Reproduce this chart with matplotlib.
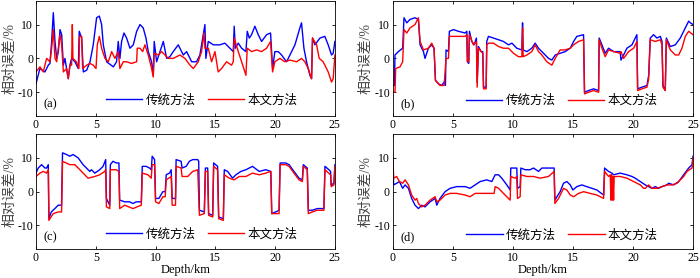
import matplotlib
matplotlib.use("Agg")
import matplotlib.pyplot as plt

plt.rcParams['font.family'] = ['Liberation Serif', 'Noto Sans CJK SC']
plt.rcParams['axes.unicode_minus'] = False

# (a) 传统方法 / 本文方法
a_blue_x = [0.0, 0.33, 0.75, 1.03, 1.17, 1.31, 1.45, 1.59, 1.73, 1.87, 2.01, 2.15, 2.29, 2.42, 2.70, 2.84, 2.98,
            3.26, 3.54, 3.62, 3.82, 3.96, 4.24, 4.52, 4.79, 5.07, 5.30, 5.49, 5.63, 5.91, 6.47, 6.74, 6.88, 7.02,
            7.16, 7.36, 7.58, 7.86, 8.14, 8.42, 8.70, 8.97, 9.20, 9.39, 9.67, 9.81, 9.89, 10.09, 10.37, 10.65,
            10.93, 11.20, 11.48, 11.90, 12.32, 12.60, 13.02, 13.43, 13.71, 13.99, 14.13, 14.21, 14.41, 14.83,
            15.38, 15.80, 16.22, 16.50, 16.58, 16.67, 16.92, 17.20, 17.56, 17.67, 17.84, 18.03, 18.31, 18.59,
            18.87, 19.29, 19.62, 19.79, 19.98, 20.26, 20.54, 20.96, 21.24, 21.66, 22.07, 22.21, 22.41, 22.63,
            22.91, 23.05, 23.13, 23.33, 23.75, 24.16, 24.44, 24.72, 24.86, 25.0]
a_blue_y = [-7.5, -3, -4, -2, -1.5, 5, 13.5, 5, 0, 2, 8.5, 7, -2, 0, -6, -2, 0,
            -1, -3, 8, 6, -4, -3.5, -1, 4, 12, 12.5, 10, 4, -1, -2.5, -1, 5, 0,
            5, 7.5, 6, 3, 4, 8, 10, 9, 6, 2, -1, -5, 5, -1, 2, 5,
            0, 0.5, 2, 4, 1, 2, -1, -1, 1, 7, 10, 0, 5, 4,
            4, 4.5, 3, 2, 9.5, 3, 4.5, 3, 2, 8, 6, 7, 9.5, 7,
            5, 7, 7.5, -3, 2, 2, 1, -1, 1, 4, 9, 10.5, 3, -1,
            -5, -6, 6, 4, 6, 6.5, 4, 1, 1.5, 5]
a_red_x = [0.0, 0.33, 0.61, 0.89, 1.17, 1.31, 1.45, 1.59, 1.73, 2.01, 2.15, 2.29, 2.56, 2.70, 2.84, 2.98, 3.04,
           3.09, 3.37, 3.59, 3.64, 3.82, 3.90, 4.24, 4.52, 4.79, 5.02, 5.13, 5.30, 5.49, 5.77, 6.05, 6.33, 6.60,
           6.88, 7.02, 7.30, 7.58, 7.99, 8.42, 8.47, 8.70, 8.92, 9.11, 9.39, 9.67, 9.81, 9.89, 10.23, 10.51,
           10.79, 11.07, 11.48, 12.04, 12.46, 12.88, 13.16, 13.57, 13.85, 14.05, 14.13, 14.41, 14.69, 14.97,
           15.24, 15.52, 15.94, 16.36, 16.50, 16.58, 16.92, 17.20, 17.56, 17.67, 18.03, 18.45, 18.87, 19.29,
           19.62, 19.79, 19.98, 20.40, 20.82, 21.24, 21.80, 22.21, 22.49, 22.77, 23.05, 23.13, 23.47, 23.69,
           24.02, 24.44, 24.72, 24.86, 25.0]
a_red_y = [-4, -2.5, -4, 0, -1, 3, 8.5, 0, -1, 7, 4, -4, -3, -6, -2, -2, 10,
           0, -1, -3, 6.5, 6.5, -3, -2, -1.5, -2, -3, 4, 6.5, 3, 0, -1, 2, 0,
           2, -3, -1, -1, -1.5, -1, 3, 3, 2, 4, 1, -3, -5.5, 1.5, 1, 2,
           1, 0, 0, 1, 0, -2, -3, -1, 2, 7.5, 3, 3, -1, 2,
           -4, -3, -1, -2, -1, 6, 2, -1, -5, 3, 2, 2.5, 2, 3,
           5, -4, -1, 0, -1, -0.5, -1, 0, -1, -3, -6, 6, 4, 0,
           -1, -4, -7, -6, 1]

# (b)
b_blue_x = [0.0, 0.14, 0.19, 0.47, 0.83, 0.94, 1.17, 1.44, 1.86, 2.14, 2.28, 2.56, 2.69, 2.97, 3.25, 3.44, 3.56,
            3.81, 4.08, 4.28, 4.39, 4.44, 4.64, 4.72, 5.06, 5.47, 6.03, 6.17, 6.22, 6.33, 6.39, 6.58, 6.78, 6.97,
            7.03, 7.14, 7.36, 7.50, 7.56, 7.78, 7.83, 7.97, 8.39, 8.81, 9.22, 9.64, 9.92, 10.33, 10.75, 10.81,
            10.86, 11.17, 11.58, 11.86, 12.14, 12.42, 12.97, 13.25, 13.53, 13.94, 14.36, 14.78, 15.06, 15.33,
            15.89, 15.97, 16.31, 16.72, 17.14, 17.19, 17.42, 17.69, 17.97, 18.39, 18.94, 19.00, 19.22, 19.50,
            19.92, 20.19, 20.33, 20.39, 20.75, 21.17, 21.31, 21.44, 21.72, 22.00, 22.28, 22.42, 22.50, 22.69,
            22.78, 23.11, 23.53, 23.94, 24.36, 24.64, 24.78, 25.0]
b_blue_y = [-8, -8, 1, 2, 3, 12, 10.5, 11.5, 12, 11.5, 4, 2, 0, 3, 4, 3, -6.5,
            -7.5, -8, -7, -8, 2.5, 2, 8, 8.5, 8, 7.5, 8, -1, -1.5, 8, 5, 4, 6,
            -7, 3.5, 2, 2, -8.5, -8.5, 5, 6.5, 6, 5.5, 5, 4, 4.5, 3, 2.5, 10.5,
            2.5, 2, 3, 4.5, 3, 2, 0, -0.5, 1, 1.5, 2, 3, 5, 6.5,
            7, -10, -9.5, -9, -9.5, 6, 4, 1.5, 3, 2, 2, -0.5, 1, 3,
            4, 6, 7, -9, -8.5, -8, -5, 6, 7, 6, 6.5, 5, -8, -9.5,
            6, 3.5, 4, 6, 9, 11, 10.5, 10]
b_red_x = [0.0, 0.19, 0.25, 0.61, 0.83, 0.94, 1.17, 1.44, 1.86, 2.14, 2.28, 2.56, 2.97, 3.25, 3.44, 3.56, 3.94,
           4.28, 4.44, 4.64, 4.72, 5.47, 6.03, 6.17, 6.22, 6.33, 6.39, 6.72, 6.97, 7.03, 7.14, 7.50, 7.56, 7.78,
           7.83, 7.97, 8.39, 8.81, 9.22, 9.64, 10.06, 10.47, 10.75, 10.81, 10.86, 11.17, 11.58, 11.86, 12.14,
           12.42, 12.83, 13.25, 13.53, 13.94, 14.36, 14.78, 15.06, 15.47, 15.89, 15.97, 16.31, 16.72, 17.14,
           17.19, 17.42, 17.69, 17.97, 18.39, 18.94, 19.00, 19.22, 19.64, 20.06, 20.33, 20.39, 20.75, 21.17,
           21.31, 21.44, 21.86, 22.28, 22.42, 22.50, 22.69, 22.78, 23.11, 23.53, 23.81, 24.08, 24.36, 24.64,
           25.0]
b_red_y = [-10, -10, -3, -2.5, -1, 8.5, 7.5, 9, 10, 12, 5, 2.5, 3, 4.5, 3, -6.5, -8,
           -8, 0, 0, 6.5, 6.5, 6.5, 7, -1, -1, 7, 4, 5, -8.5, 3, 1.5, -9, -9,
           4, 4.5, 4.5, 3.5, 3, 3, 1.5, 0.5, 0.5, 9, 0.5, 1, 2, 4, 2,
           1, -1, -2, 0, 2.5, 2.5, 3, 4, 5, 5.5, -10.5, -10, -9.5, -10,
           5.5, 3, 0.5, 2.5, 2, 1.5, 2, 0, 2, 3, 5, -9.5, -9, -8.5,
           -6, 5.5, 5, 5.5, 4, -8.5, -9.5, 5.5, 2.5, 1, 1, 3, 6.5, 8,
           7]

# (c)
c_blue_x = [0.0, 0.19, 0.47, 0.75, 0.89, 1.03, 1.08, 1.28, 1.58, 1.86, 2.14, 2.22, 2.56, 2.83, 3.11, 3.53, 3.94,
            4.22, 4.50, 4.64, 4.92, 5.33, 5.61, 5.83, 5.89, 6.17, 6.22, 6.44, 6.72, 6.94, 7.00, 7.42, 7.83, 8.11,
            8.39, 8.81, 8.89, 9.22, 9.50, 9.64, 9.72, 9.92, 10.00, 10.28, 10.61, 10.81, 10.89, 11.17, 11.31,
            11.39, 11.67, 11.72, 12.14, 12.22, 12.56, 12.83, 13.11, 13.53, 13.61, 13.67, 14.08, 14.17, 14.36,
            14.44, 14.78, 14.86, 15.19, 15.28, 15.67, 15.75, 16.03, 16.44, 16.72, 17.14, 17.56, 18.11, 18.67,
            19.22, 19.64, 19.72, 20.06, 20.33, 20.42, 20.89, 21.17, 21.58, 22.00, 22.28, 22.36, 22.69, 22.78,
            23.11, 23.53, 23.94, 24.08, 24.17, 24.50, 24.64, 24.69, 24.92, 25.0]
c_blue_y = [5.5, 7, 8, 7, 7, 8, -8, -6, -5, -4, -4, 11.5, 11, 10.5, 11, 10, 8,
            7, 6, 6.5, 5.5, 6.5, 7.5, 9.5, -2, -4, 8, 9, 8.5, 8.5, -2.5, -3, -3, -3.5,
            -3, -3, 7.5, 7.5, 7, 6.5, 10.5, 9.5, -2, -2, 0, 0, 5, 5.5, 6.5,
            -2, -2, 9.5, 9, 7, 7.5, 9, 9.5, 9.5, 9, -5.5, -6, 7, 7,
            -6.5, -7, 8.5, 7.5, -7.5, -8, 6.5, 6, 4, 5, 6, 6.5, 7.5, 6,
            6.5, 6, -6.5, -6, -5.5, 8.5, 8.5, 8, 6, 4, 3.5, 8, 7, -5.5,
            -5.5, -5, -5, -5, 7.5, 6.5, 6, 2, 2.5, 8]
c_red_x = [0.0, 0.33, 0.61, 0.89, 1.03, 1.08, 1.44, 1.86, 2.14, 2.22, 2.83, 3.25, 3.67, 4.08, 4.36, 4.92, 5.33,
           5.75, 5.83, 5.89, 6.17, 6.22, 6.72, 6.94, 7.00, 7.42, 8.11, 8.81, 8.89, 9.36, 9.64, 9.72, 9.92,
           10.00, 10.28, 10.61, 10.81, 10.89, 11.31, 11.39, 11.67, 11.72, 12.14, 12.22, 12.69, 13.11, 13.53,
           13.67, 14.08, 14.17, 14.36, 14.44, 14.78, 14.86, 15.19, 15.28, 15.67, 15.75, 16.17, 16.58, 17.00,
           17.56, 18.11, 18.67, 19.22, 19.64, 19.72, 20.33, 20.42, 20.89, 21.17, 21.58, 22.00, 22.28, 22.36,
           22.69, 22.78, 23.11, 23.53, 24.08, 24.17, 24.64, 24.69, 24.92, 25.0]
c_red_y = [4.5, 5.5, 6, 5.5, 6.5, -8.5, -6.5, -6, -6, 9, 8, 8, 6.5, 5, 4, 4.5, 5,
           6, 6.5, -4.5, -5, 6.5, 6.5, 6, -5, -4, -5, -4, 5.5, 5, 4, 8, 8,
           -3, -3.5, -1.5, -1.5, 3.5, 4.5, -4, -4, 7.5, 7, 4.5, 4.5, 6, 6.5,
           -7, -6.5, 6, 6, -7, -7.5, 7.5, 6.5, -8, -8.5, 5, 4, 3.5, 4.5,
           4.5, 5.5, 5, 5.5, 6, -6.5, -6.5, 8, 8, 7.5, 5.5, 3.5, 3, 7.5,
           6.5, -6.5, -6, -5.5, -5.5, 6.5, 5, 1.5, 2, 7.5]

# (d)
d_blue_x = [0.0, 0.08, 0.33, 0.56, 0.83, 1.03, 1.31, 1.58, 1.86, 2.14, 2.42, 2.69, 3.11, 3.53, 3.67, 3.94, 4.36,
            4.78, 5.33, 6.03, 6.44, 6.86, 7.28, 7.83, 8.25, 8.53, 8.81, 9.08, 9.50, 9.78, 9.83, 10.06, 10.33,
            10.39, 10.61, 10.67, 11.03, 11.44, 11.72, 12.14, 12.42, 12.97, 13.44, 13.50, 13.67, 13.94, 14.22,
            14.50, 14.78, 15.00, 15.33, 15.75, 16.14, 16.58, 17.00, 17.56, 17.64, 17.97, 18.25, 18.39, 18.94,
            19.50, 19.92, 20.19, 20.61, 21.03, 21.31, 21.58, 21.86, 22.14, 22.42, 22.83, 22.97, 23.39, 23.81,
            24.22, 24.64, 24.92, 25.0]
d_blue_y = [10, 2, 2.5, 3, 1, 2, 1, -2, -4, -5, -4, -4.5, -3, -2, -4, -2, 0,
            1, 1.5, 1.5, 1, 2, 3, 3.5, 3, 5, 5, 4, 2, 0.5, 7, 7, 7,
            1, 1.5, 7, 6.5, 6.5, 7, 6, 7, 7, 7, -2.5, -1.5, 0, 2.5,
            3, 2, 0.5, 1.5, 2, 1.5, 1, 0.5, -1, 7, 6, 5.5, 5, 5.5,
            5, 4.5, 4, 3, 2, 1.5, 1, 1.5, 1, 1.5, 2, 2.5, 2, 3,
            5, 7, 8, 10.5]
d_red_x = [0.0, 0.08, 0.33, 0.56, 0.83, 1.03, 1.31, 1.58, 1.86, 2.00, 2.14, 2.42, 2.69, 3.11, 3.53, 3.67, 3.94,
           4.36, 4.78, 5.33, 6.03, 6.44, 6.86, 7.56, 8.11, 8.44, 8.53, 8.81, 9.22, 9.64, 9.78, 9.83, 10.19,
           10.33, 10.39, 10.61, 10.67, 11.17, 11.72, 12.28, 12.97, 13.44, 13.50, 13.81, 14.22, 14.50, 14.78,
           15.06, 15.47, 15.89, 16.44, 17.00, 17.56, 17.64, 17.97, 18.11, 18.17, 18.22, 18.28, 18.33, 18.39,
           18.44, 18.94, 19.50, 20.06, 20.61, 20.89, 21.03, 21.31, 21.58, 22.00, 22.42, 22.83, 23.25, 23.67,
           24.22, 24.50, 24.92, 25.0]
d_red_y = [11, 4, 4.5, 3, 2.5, 3.5, 2, -1, -2.5, -2, -3.5, -4.5, -4, -2.5, -1.5, -3, -2.5,
           -1, -0.5, -0.5, -1, -1.5, -0.5, -0.5, -0.5, -0.5, 1.5, 1, -0.5, -2, -2.5, 4.5, 4,
           4.5, -2, -1.5, 5, 4.5, 4.5, 4, 4.5, 6, -3.5, -2, 1, 0.5, -1,
           -1.5, -0.5, 0, -0.5, -1, -2, 6, 4.5, 5, -2.5, 5, -2.5, 4.5, -2.5,
           4.5, 4.5, 4, 3, 2, 1, 1, 2, 1, 1, 1.5, 2, 2, 2.5,
           4.5, 6, 7, 10]

labels = ['(a)', '(b)', '(c)', '(d)']
blue_x = [a_blue_x, b_blue_x, c_blue_x, d_blue_x]
blue_y = [a_blue_y, b_blue_y, c_blue_y, d_blue_y]
red_x = [a_red_x, b_red_x, c_red_x, d_red_x]
red_y = [a_red_y, b_red_y, c_red_y, d_red_y]

fig = plt.figure(figsize=(7.0, 2.78), dpi=100)
positions = [[0.0514, 0.583, 0.427, 0.414],
             [0.561, 0.583, 0.429, 0.414],
             [0.0514, 0.104, 0.427, 0.413],
             [0.561, 0.104, 0.429, 0.413]]
leg_anchor = [(0.554, 0.132), (0.563, 0.13), (0.554, 0.125), (0.564, 0.12)]

for i in range(4):
  ax = fig.add_axes(positions[i])
  ax.plot(blue_x[i], blue_y[i], color='#0000ff', lw=1.0, label='传统方法')
  ax.plot(red_x[i], red_y[i], color='#ff0000', lw=1.0, label='本文方法')
  ax.set_xlim(0, 25)
  ax.set_ylim(-17, 17)
  ax.set_xticks([0, 5, 10, 15, 20, 25])
  ax.set_yticks([-10, 0, 10])
  ax.tick_params(direction='in', top=True, right=True, length=2.5, width=0.6, labelsize=8.5, pad=2)
  for s in ax.spines.values():
    s.set_linewidth(0.6)
  ax.set_ylabel('相对误差/%', fontsize=10, color='#444444', labelpad=1)
  ax.text(0.025, 0.05, labels[i], transform=ax.transAxes, fontsize=9, ha='left', va='bottom')
  ax.legend(loc='center', bbox_to_anchor=leg_anchor[i], ncol=2, frameon=False,
            fontsize=9, handlelength=2.9, columnspacing=1.0, handletextpad=0.25,
            borderpad=0, borderaxespad=0)
  if i >= 2:
    ax.set_xlabel('Depth/km', fontsize=9, labelpad=0)

plt.savefig('out.png', dpi=100)
